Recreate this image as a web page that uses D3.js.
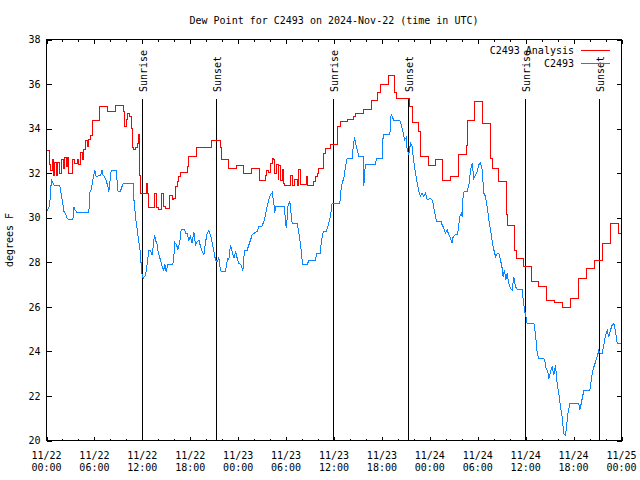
<!DOCTYPE html>
<html><head><meta charset="utf-8">
<script src="https://cdn.jsdelivr.net/npm/d3@7"></script>
<style>
body{margin:0;background:#fff;}
svg text{font-family:"DejaVu Sans Mono","Liberation Mono",monospace;font-size:10px;fill:#000;}
</style></head><body>
<svg id="c" width="640" height="480"></svg>
<script>
const titleText = "Dew Point for C2493 on 2024-Nov-22 (time in UTC)";
const yLabelText = "degrees F";
const startUTC = Date.UTC(2024, 10, 22, 0, 0);
const spanHours = 72;
const xTickHours = [0, 6, 12, 18, 24, 30, 36, 42, 48, 54, 60, 66, 72];
const xMinorHours = [2, 4, 8, 10, 14, 16, 20, 22, 26, 28, 32, 34, 38, 40, 44, 46, 50, 52, 56, 58, 62, 64, 68, 70];
const yTicks = [20, 22, 24, 26, 28, 30, 32, 34, 36, 38];
const seriesNames = ["C2493 Analysis", "C2493"];
const eventHours = [12.03, 21.3, 35.98, 45.37, 60.03, 69.3];
const eventLabels = ["Sunrise", "Sunset", "Sunrise", "Sunset", "Sunrise", "Sunset"];

// [hours since 11/22 00:00 UTC, deg F]
const analysisSeries = [[0,33.0],[0.38,32.4],[0.5,32.1],[0.71,32.6],[0.84,31.9],[1.04,32.5],[1.25,31.9],[1.42,32.5],[1.63,32.0],[1.84,32.6],[2.09,32.2],[2.25,32.7],[2.46,32.3],[2.59,32.7],[2.75,32.0],[3.3,32.6],[3.55,32.45],[3.84,32.6],[4.05,32.4],[4.26,32.95],[4.47,32.6],[4.68,33.05],[4.88,33.45],[5.09,33.2],[5.3,33.5],[5.51,33.7],[5.72,34.35],[6.6,35.0],[7.7,34.77],[8.7,35.05],[9.6,34.75],[9.75,34.1],[9.98,34.4],[10.19,34.7],[10.44,34.55],[10.6,34.0],[10.77,33.13],[10.94,33.05],[11.15,33.13],[11.36,33.35],[11.48,33.75],[11.61,33.13],[11.7,31.9],[11.77,31.1],[12.52,31.55],[12.69,31.1],[12.81,30.46],[13.55,31.1],[13.8,30.45],[13.98,30.35],[14.45,31.1],[14.69,30.5],[14.9,30.4],[15.45,31.0],[15.74,30.8],[15.94,30.88],[16.15,31.4],[16.36,31.63],[16.57,31.85],[16.78,32.05],[17.62,32.3],[17.82,32.75],[18.75,33.17],[20.7,33.46],[21.75,33.13],[21.87,32.6],[22.75,32.22],[23.8,32.33],[24.71,32.0],[25.7,32.2],[26.7,31.67],[27.4,31.9],[27.55,32.1],[27.84,32.05],[28.05,32.45],[28.26,32.67],[28.47,32.6],[28.59,32.0],[28.8,32.4],[29.0,31.7],[29.09,32.33],[29.3,31.67],[29.51,32.15],[29.63,31.55],[29.75,31.43],[30.55,31.9],[30.76,31.43],[31.05,31.7],[31.39,31.45],[31.6,32.15],[31.81,31.48],[32.5,31.85],[32.72,31.43],[33.45,31.63],[33.69,31.85],[33.89,32.0],[34.1,32.2],[34.7,32.9],[34.94,33.1],[35.6,33.27],[36.5,34.1],[36.82,34.33],[37.7,34.43],[38.49,34.55],[38.69,34.7],[39.7,34.88],[40.7,35.27],[41.5,35.63],[41.82,36.0],[42.8,36.4],[43.55,35.6],[43.79,35.33],[45.5,35.0],[45.79,34.28],[46.62,33.88],[46.83,32.75],[47.8,32.33],[48.65,32.6],[49.6,31.67],[50.6,31.85],[51.6,32.86],[52.55,33.23],[52.7,34.37],[53.55,35.23],[54.55,34.22],[55.6,32.68],[55.81,32.22],[56.65,31.62],[57.65,30.13],[57.77,29.67],[58.65,28.55],[58.85,28.18],[59.7,27.8],[60.7,27.13],[61.6,26.9],[62.6,26.3],[63.65,26.18],[64.65,25.97],[65.65,26.37],[66.6,27.27],[67.6,27.73],[68.65,28.1],[69.65,28.85],[70.65,29.75],[71.6,29.3],[72,29.3]];

const stationSeries = [[0,30.28],[0.29,30.43],[0.5,30.95],[0.6,31.7],[0.84,31.55],[1.0,31.43],[1.67,31.43],[1.75,31.25],[1.88,30.95],[2.04,30.65],[2.17,30.28],[2.38,30.2],[2.59,29.98],[2.8,29.9],[3.3,29.9],[3.42,30.5],[3.55,30.35],[3.84,30.23],[5.3,30.23],[5.43,31.13],[5.6,31.25],[5.85,31.78],[6.05,32.15],[6.14,31.9],[6.26,31.85],[6.76,31.9],[6.97,32.15],[7.09,31.9],[7.26,31.85],[7.51,31.63],[7.68,31.4],[7.81,31.17],[7.93,31.55],[8.1,32.12],[8.76,32.12],[8.85,31.55],[8.97,31.17],[9.26,31.17],[9.39,31.35],[9.6,31.52],[10.85,31.52],[10.95,30.8],[11.06,30.4],[11.19,29.9],[11.36,29.45],[11.56,28.93],[11.77,28.4],[11.9,27.58],[12.1,27.28],[12.4,27.43],[12.61,27.95],[12.81,28.55],[13.02,28.55],[13.23,28.33],[13.36,28.7],[13.52,29.23],[13.65,29.0],[13.86,28.78],[13.98,28.48],[14.19,28.2],[14.48,27.8],[14.69,27.65],[14.82,27.9],[14.98,27.58],[15.19,27.88],[15.82,27.88],[15.94,28.25],[16.07,28.88],[16.28,28.78],[16.45,28.58],[16.7,28.93],[16.86,29.48],[17.28,29.48],[17.41,29.3],[17.62,29.3],[17.82,29.0],[18.03,29.15],[18.24,28.85],[18.45,29.37],[18.66,28.78],[18.87,28.93],[19.08,29.0],[19.29,28.7],[19.49,28.48],[19.7,28.33],[19.91,28.9],[20.12,29.3],[20.33,29.42],[20.54,29.22],[20.75,28.85],[20.96,28.48],[21.16,28.1],[21.37,28.03],[21.58,28.2],[21.71,27.83],[21.87,27.58],[22.42,27.58],[22.54,27.88],[22.71,28.18],[22.83,28.13],[23.04,28.78],[23.25,28.48],[23.46,28.18],[23.67,28.48],[23.88,28.18],[24.08,27.95],[24.38,27.88],[24.59,27.62],[24.79,28.55],[25.13,28.55],[25.34,28.78],[25.55,29.0],[25.75,29.23],[25.96,29.3],[26.38,29.38],[26.59,29.6],[27.0,29.63],[27.21,29.83],[27.42,30.13],[27.63,30.5],[27.84,30.8],[28.05,31.03],[28.26,31.13],[28.47,30.65],[28.59,30.2],[28.67,30.5],[29.8,30.5],[29.93,29.75],[30.05,29.53],[30.22,30.5],[30.47,30.73],[30.64,30.13],[30.76,29.75],[31.39,29.75],[31.6,29.3],[31.81,28.78],[31.93,28.4],[32.06,27.88],[32.64,27.88],[32.85,28.1],[33.69,28.1],[33.81,28.4],[34.31,28.4],[34.4,28.93],[34.65,29.38],[35.06,29.38],[35.14,29.53],[35.35,29.75],[35.56,30.05],[35.77,30.65],[36.73,30.65],[36.82,31.1],[37.02,31.55],[37.23,31.78],[37.44,32.3],[37.65,32.68],[38.28,32.68],[38.4,33.17],[38.57,33.62],[38.69,33.35],[38.9,33.05],[39.11,32.75],[39.65,32.75],[39.74,31.43],[39.82,32.0],[39.95,32.38],[41.2,32.38],[41.32,32.68],[42.03,32.68],[42.16,33.73],[42.99,33.73],[43.16,34.67],[43.33,34.5],[43.5,34.37],[44.24,34.37],[44.41,34.18],[44.66,33.8],[44.83,33.5],[45.04,33.6],[45.16,33.05],[45.37,32.83],[45.58,33.35],[45.79,33.2],[45.91,32.75],[46.08,32.3],[46.25,31.93],[46.41,31.55],[46.62,31.18],[46.83,30.98],[47.04,31.1],[47.25,30.95],[47.46,31.1],[47.67,30.8],[48.08,30.88],[48.37,30.73],[48.58,30.28],[48.84,29.83],[49.42,29.83],[49.54,29.68],[49.75,29.53],[49.96,29.3],[50.17,29.45],[50.38,29.23],[50.59,29.08],[50.8,28.85],[50.92,29.15],[51.21,29.23],[51.42,29.23],[51.55,29.45],[51.76,30.05],[51.93,30.2],[52.05,30.05],[52.18,31.1],[52.34,31.18],[52.68,31.18],[52.89,31.48],[53.1,32.15],[53.3,32.45],[53.51,31.78],[53.72,31.93],[53.93,32.08],[54.14,32.38],[54.35,32.45],[54.55,32.15],[54.76,31.1],[54.97,30.95],[55.18,30.5],[55.39,29.9],[55.6,29.45],[55.81,28.93],[56.02,28.55],[56.23,28.25],[56.43,28.4],[56.64,28.4],[56.85,28.1],[57.06,27.73],[57.18,27.35],[57.35,27.65],[57.52,27.2],[57.68,27.5],[57.89,27.05],[58.1,26.83],[58.31,26.75],[58.52,27.35],[58.73,26.9],[58.94,26.78],[59.56,26.78],[59.69,26.3],[59.86,25.85],[60.03,25.55],[60.19,25.25],[61.03,25.25],[61.24,24.73],[61.45,23.9],[61.65,23.68],[62.28,23.68],[62.41,23.53],[62.57,23.23],[62.78,23.08],[62.91,22.78],[63.11,23.08],[63.32,23.3],[63.53,22.93],[63.74,23.38],[63.94,22.55],[64.15,22.1],[64.36,21.5],[64.57,21.05],[64.78,20.3],[64.99,20.22],[65.11,20.6],[65.28,21.2],[65.53,21.65],[66.66,21.65],[66.78,21.35],[66.95,21.65],[67.12,21.95],[67.28,22.25],[68.04,22.25],[68.21,22.7],[68.37,23.08],[68.54,23.3],[68.75,23.53],[68.95,23.75],[69.16,24.05],[69.37,23.9],[69.58,23.9],[69.79,24.28],[70.0,24.73],[70.21,24.95],[70.41,24.65],[70.62,24.95],[70.83,25.18],[71.04,25.25],[71.25,24.88],[71.46,24.35],[72,24.35]];

const colors = ["#ff0000", "#0a84ff"];

const svg = d3.select("#c");
const L = 46.5, R = 621.5, T = 39.5, B = 440.5;
const toDate = h => new Date(startUTC + h * 3600000);
const x = d3.scaleUtc().domain([toDate(0), toDate(spanHours)]).range([L, R]);
const y = d3.scaleLinear().domain([20, 38]).range([B, T]);

// title
svg.append("text").attr("x", (L + R) / 2).attr("y", 24).attr("text-anchor", "middle").text(titleText);

// y label
svg.append("text").attr("transform", "translate(13,240) rotate(-90)").attr("text-anchor", "middle").text(yLabelText);

const fmtDay = d3.utcFormat("%m/%d"), fmtTime = d3.utcFormat("%H:%M");

// bottom axis major
const gB = svg.append("g").attr("transform", `translate(0,${B})`)
  .call(d3.axisBottom(x).tickValues(xTickHours.map(toDate)).tickSizeInner(-4).tickSizeOuter(0).tickFormat(""));
gB.selectAll(".tick text").remove();
xTickHours.forEach(h => {
  const t = svg.append("text").attr("text-anchor", "middle");
  t.append("tspan").attr("x", x(toDate(h))).attr("y", 458.5).text(fmtDay(toDate(h)));
  t.append("tspan").attr("x", x(toDate(h))).attr("y", 471).text(fmtTime(toDate(h)));
});
svg.append("g").attr("transform", `translate(0,${B})`)
  .call(d3.axisBottom(x).tickValues(xMinorHours.map(toDate)).tickSizeInner(-2).tickSizeOuter(0).tickFormat(""));
// top mirror
svg.append("g").attr("transform", `translate(0,${T})`)
  .call(d3.axisTop(x).tickValues(xTickHours.map(toDate)).tickSizeInner(-4).tickSizeOuter(0).tickFormat(""));
svg.append("g").attr("transform", `translate(0,${T})`)
  .call(d3.axisTop(x).tickValues(xMinorHours.map(toDate)).tickSizeInner(-2).tickSizeOuter(0).tickFormat(""));
// left
svg.append("g").attr("transform", `translate(${L},0)`)
  .call(d3.axisLeft(y).tickValues(yTicks).tickSizeInner(-5).tickSizeOuter(0).tickPadding(6).tickFormat(d3.format("d")));
// right
svg.append("g").attr("transform", `translate(${R},0)`)
  .call(d3.axisRight(y).tickValues(yTicks).tickSizeInner(-5).tickSizeOuter(0).tickFormat(""));

svg.selectAll(".domain").remove();
svg.selectAll(".tick line").attr("stroke", "#000").attr("shape-rendering", "crispEdges");
svg.selectAll("g text").style("font-family", '"DejaVu Sans Mono","Liberation Mono",monospace').style("font-size", "10px").attr("fill", "#000");

// events
eventHours.forEach((h, i) => {
  const xe = x(toDate(h));
  svg.append("line").attr("x1", xe).attr("x2", xe).attr("y1", 99).attr("y2", B)
    .attr("stroke", "#000").attr("shape-rendering", "crispEdges");
  svg.append("text").attr("transform", `translate(${xe + 4.5},92) rotate(-90)`).attr("text-anchor", "start").text(eventLabels[i]);
});

// series
const lineStep = d3.line().x(d => x(toDate(d[0]))).y(d => y(d[1])).curve(d3.curveStepAfter);
const lineLin = d3.line().x(d => x(toDate(d[0]))).y(d => y(d[1]));
svg.append("path").datum(analysisSeries).attr("d", lineStep).attr("fill", "none").attr("stroke", colors[0]).attr("stroke-width", 1).attr("shape-rendering", "crispEdges");
svg.append("path").datum(stationSeries).attr("d", lineLin).attr("fill", "none").attr("stroke", colors[1]).attr("stroke-width", 1).attr("shape-rendering", "crispEdges");

// border
svg.append("rect").attr("x", L).attr("y", T).attr("width", R - L).attr("height", B - T)
  .attr("fill", "none").attr("stroke", "#000").attr("shape-rendering", "crispEdges");

// legend
seriesNames.forEach((n, i) => {
  const ly = 50.5 + i * 12.5;
  svg.append("text").attr("x", 574).attr("y", ly + 3.8).attr("text-anchor", "end").text(n);
  svg.append("line").attr("x1", 581).attr("x2", 610).attr("y1", ly).attr("y2", ly)
    .attr("stroke", colors[i]).attr("shape-rendering", "crispEdges");
});
</script>
</body></html>
